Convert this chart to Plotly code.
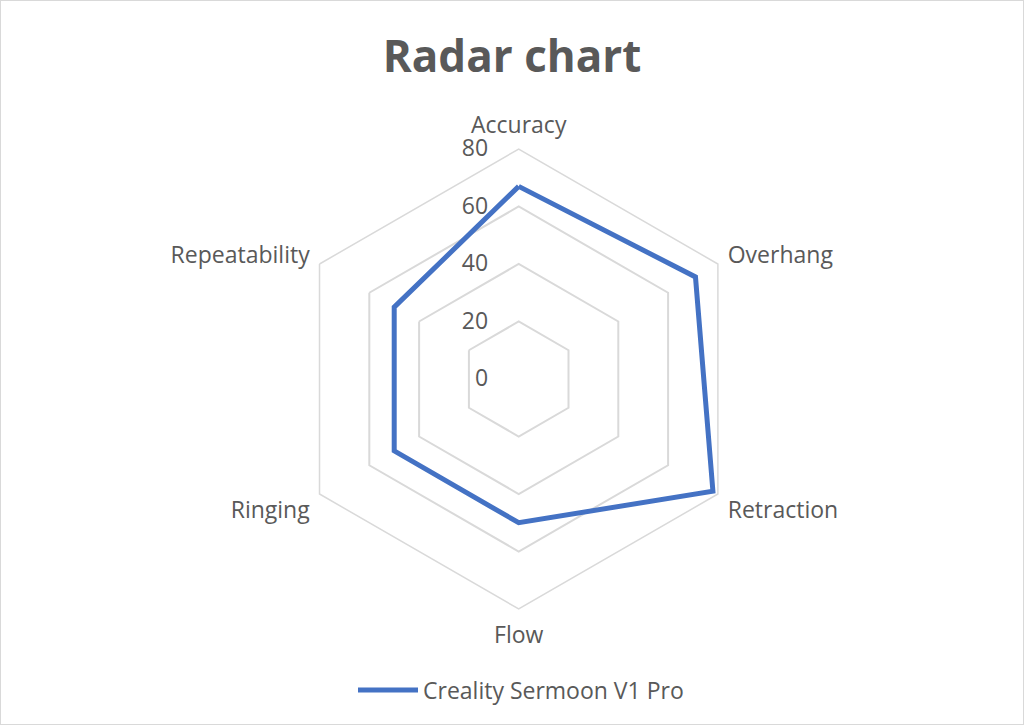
import plotly.graph_objects as go

categories = ["Accuracy", "Overhang", "Retraction", "Flow", "Ringing", "Repeatability"]
values = [67, 71, 78, 50, 50, 50]
series_name = "Creality Sermoon V1 Pro"
radial_ticks = [0, 20, 40, 60, 80]

TXT = "#595959"
GRID = "#d9d9d9"
BLUE = "#4472C4"
FONT = "Open Sans"

fig = go.Figure()
fig.add_trace(go.Scatterpolar(
    r=values + values[:1],
    theta=categories + categories[:1],
    mode="lines",
    name=series_name,
    line=dict(color=BLUE, width=5),
    hoverinfo="skip",
))

W, H = 1024, 725
cx, cy, R = 518.7, 379.0, 230.0

fig.update_layout(
    width=W, height=H,
    margin=dict(l=0, r=0, t=0, b=0),
    paper_bgcolor="white",
    plot_bgcolor="white",
    font=dict(family=FONT, color=TXT, size=23),
    title=dict(text="<b>Radar chart</b>", x=0.5, xanchor="center", y=1 - 57 / H, yanchor="middle",
               font=dict(family=FONT, size=44, color=TXT)),
    showlegend=True,
    legend=dict(orientation="h", x=0.5 + 9 / W, xanchor="center", y=35 / H, yanchor="middle",
                font=dict(family=FONT, size=23, color=TXT), itemwidth=60),
    polar=dict(
        domain=dict(x=[(cx - R) / W, (cx + R) / W], y=[(H - cy - R) / H, (H - cy + R) / H]),
        bgcolor="white",
        gridshape="linear",
        angularaxis=dict(
            direction="clockwise", rotation=90,
            showgrid=False, showline=True, linecolor=GRID, linewidth=1.5,
            ticks="outside", ticklen=6, tickcolor="rgba(0,0,0,0)",
            tickfont=dict(family=FONT, size=23, color=TXT),
        ),
        radialaxis=dict(
            range=[0, 80], tickvals=radial_ticks, angle=90, side="counterclockwise",
            showline=False, gridcolor=GRID, gridwidth=1.5,
            ticks="outside", ticklen=22, tickcolor="rgba(0,0,0,0)",
            tickangle=90,
            tickfont=dict(family=FONT, size=23, color=TXT),
        ),
    ),
    shapes=[dict(type="rect", xref="paper", yref="paper", x0=0, x1=1, y0=0, y1=1,
                 line=dict(color=GRID, width=2), layer="below")],
)

fig.write_html("out.html", config={"displayModeBar": False},
               post_script="document.body.style.margin='0';document.body.style.overflow='hidden';")
